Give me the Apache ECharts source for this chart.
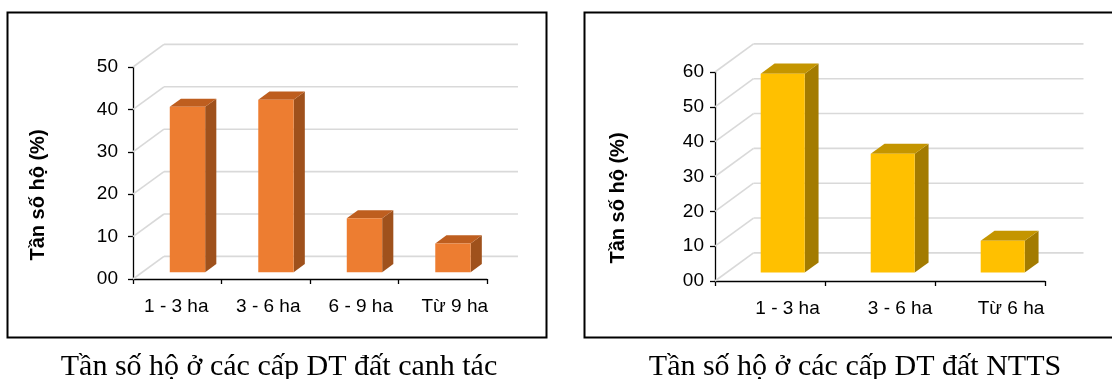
<!DOCTYPE html>
<html>
<head>
<meta charset="utf-8">
<script src="https://cdn.jsdelivr.net/npm/echarts@6/dist/echarts.min.js"></script>
<style>
  html, body { margin: 0; padding: 0; background: #fff; }
  #chart { width: 1112px; height: 379px; }
</style>
</head>
<body>
<div id="chart"></div>
<script>
// ---- data ----
const catsLand = ['1 - 3 ha', '3 - 6 ha', '6 - 9 ha', 'Từ 9 ha'];
const valsLand = [39.0, 40.7, 12.7, 6.8];
const ticksLand = [0, 10, 20, 30, 40, 50];

const catsPond = ['1 - 3 ha', '3 - 6 ha', 'Từ 6 ha'];
const valsPond = [57.1, 34.1, 9.1];
const ticksPond = [0, 10, 20, 30, 40, 50, 60];

const yTitle = 'Tần số hộ (%)';
const captionLand = 'Tần số hộ ở các cấp DT đất canh tác';
const captionPond = 'Tần số hộ ở các cấp DT đất NTTS';

// ---- pseudo 3D geometry (fractions of one category width) ----
const DEPTH = 0.35;      // horizontal depth of the walls
const SLOPE = 0.73;      // vertical rise per unit of depth
const BAR_W = 0.40;      // bar width
const BAR_OFF_X = 0.33;  // bar front plane, share of depth
const BAR_OFF_Y = 0.30;
const BAR_D = 0.36;      // bar thickness, share of depth

const SANS = 'Liberation Sans';
const SERIF = 'Liberation Serif';

function depthVec(api) {
  const cw = api.size([1, 0])[0];
  const dx = cw * DEPTH;
  return [dx, -dx * SLOPE, cw];
}

// back wall gridlines plus side wall diagonals
function renderWalls(params, api) {
  const cs = params.coordSys;
  const [dx, dy] = depthVec(api);
  const y = api.coord([0, api.value(1)])[1];
  const st = { stroke: '#D9D9D9', lineWidth: 1.6 };
  return {
    type: 'group',
    children: [
      { type: 'line', shape: { x1: cs.x, y1: y, x2: cs.x + dx, y2: y + dy }, style: st },
      { type: 'line', shape: { x1: cs.x + dx, y1: y + dy, x2: cs.x + cs.width + dx, y2: y + dy }, style: st }
    ]
  };
}

function bar3D(front, topC, side) {
  return function (params, api) {
    const idx = api.value(0);
    const val = api.value(1);
    const [dx, dy, cw] = depthVec(api);
    const top = api.coord([idx, val]);
    const base = api.coord([idx, 0]);
    const bw = cw * BAR_W;
    const x0 = top[0] - bw / 2 + dx * BAR_OFF_X;
    const x1 = x0 + bw;
    const yT = top[1] + dy * BAR_OFF_Y;
    const yB = base[1] + dy * BAR_OFF_Y;
    const sx = dx * BAR_D, sy = dy * BAR_D;
    return {
      type: 'group',
      children: [
        { type: 'polygon', shape: { points: [[x1, yT], [x1 + sx, yT + sy], [x1 + sx, yB + sy], [x1, yB]] }, style: { fill: side } },
        { type: 'polygon', shape: { points: [[x0, yT], [x0 + sx, yT + sy], [x1 + sx, yT + sy], [x1, yT]] }, style: { fill: topC } },
        { type: 'rect', shape: { x: x0, y: yT, width: bw, height: yB - yT }, style: { fill: front } }
      ]
    };
  };
}

// category labels sit a little to the right, following the floor perspective
const shiftLand = [-1, 2.5, 6.5, 12];
const shiftPond = [17.5, 20, 21];
function catData(cats, shifts) {
  return cats.map((c, i) => ({
    value: c,
    textStyle: { padding: shifts[i] >= 0 ? [0, 0, 0, 2 * shifts[i]] : [0, -2 * shifts[i], 0, 0] }
  }));
}

function xAxisOf(gridIndex, cats, shifts) {
  return {
    type: 'category', gridIndex, data: catData(cats, shifts),
    axisLine: { lineStyle: { color: '#000', width: 1.3 } },
    axisTick: { show: true, length: 5, lineStyle: { color: '#000', width: 1.3 } },
    axisLabel: { color: '#000', fontFamily: SANS, fontSize: 19, margin: 18 },
    splitLine: { show: false }
  };
}
function yAxisOf(gridIndex, max, margin) {
  return {
    type: 'value', gridIndex, min: 0, max, interval: 10,
    axisLine: { show: true, lineStyle: { color: '#000', width: 1.3 } },
    axisTick: { show: true, length: 5, lineStyle: { color: '#000', width: 1.3 } },
    axisLabel: { color: '#000', fontFamily: SANS, fontSize: 19, margin,
                 formatter: v => String(v).padStart(2, '0') },
    splitLine: { show: false }
  };
}

const chart = echarts.init(document.getElementById('chart'), null, { renderer: 'canvas' });
chart.setOption({
  animation: false,
  backgroundColor: '#fff',
  grid: [
    { left: 133, top: 67, width: 354, height: 212 },
    { left: 715, top: 72, width: 330, height: 209 }
  ],
  xAxis: [xAxisOf(0, catsLand, shiftLand), xAxisOf(1, catsPond, shiftPond)],
  yAxis: [yAxisOf(0, 50, 15), yAxisOf(1, 60, 11)],
  series: [
    { type: 'custom', xAxisIndex: 0, yAxisIndex: 0, z: 1, silent: true,
      data: ticksLand.map(v => [0, v]), renderItem: renderWalls },
    { type: 'custom', xAxisIndex: 1, yAxisIndex: 1, z: 1, silent: true,
      data: ticksPond.map(v => [0, v]), renderItem: renderWalls },
    { type: 'custom', xAxisIndex: 0, yAxisIndex: 0, z: 3,
      data: valsLand.map((v, i) => [i, v]), renderItem: bar3D('#ED7D31', '#BE5E1F', '#9F511C') },
    { type: 'custom', xAxisIndex: 1, yAxisIndex: 1, z: 3,
      data: valsPond.map((v, i) => [i, v]), renderItem: bar3D('#FFC000', '#C49500', '#A37B00') }
  ],
  graphic: [
    { type: 'rect', shape: { x: 7.5, y: 12.5, width: 539, height: 325 },
      style: { fill: 'none', stroke: '#000', lineWidth: 2 }, silent: true },
    { type: 'rect', shape: { x: 584.5, y: 12.5, width: 540, height: 325 },
      style: { fill: 'none', stroke: '#000', lineWidth: 2 }, silent: true },
    { type: 'text', x: 38, y: 195, rotation: Math.PI / 2,
      style: { text: yTitle, font: 'bold 20px "' + SANS + '"', fill: '#000', textAlign: 'center', textVerticalAlign: 'middle' } },
    { type: 'text', x: 618, y: 198, rotation: Math.PI / 2,
      style: { text: yTitle, font: 'bold 20px "' + SANS + '"', fill: '#000', textAlign: 'center', textVerticalAlign: 'middle' } },
    { type: 'text', x: 279, y: 367,
      style: { text: captionLand, font: '30px "' + SERIF + '"', fill: '#000', textAlign: 'center', textVerticalAlign: 'middle' } },
    { type: 'text', x: 855, y: 367,
      style: { text: captionPond, font: '30px "' + SERIF + '"', fill: '#000', textAlign: 'center', textVerticalAlign: 'middle' } }
  ]
});
</script>
</body>
</html>
